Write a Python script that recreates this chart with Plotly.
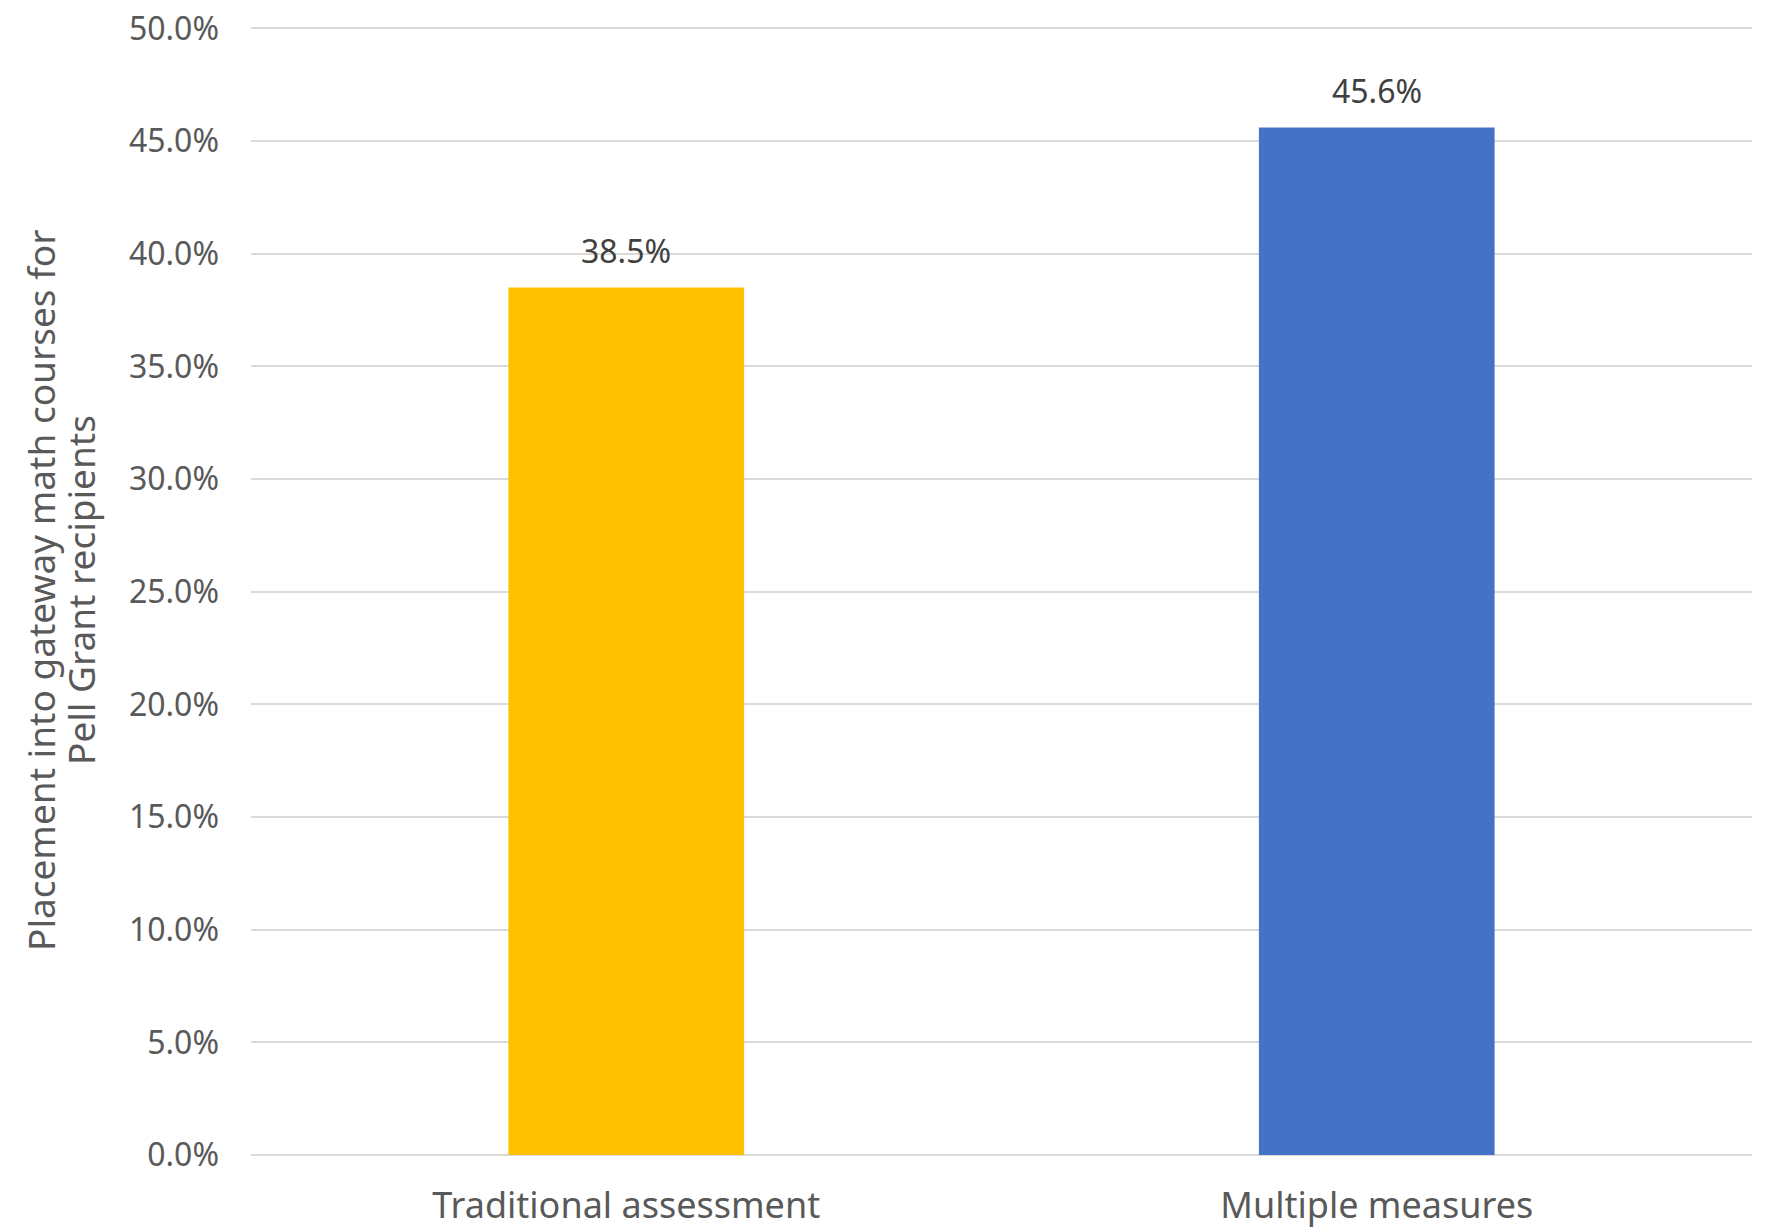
import plotly.graph_objects as go

categories = ["Traditional assessment", "Multiple measures"]
values = [38.5, 45.6]
bar_colors = ["#FFC000", "#4472C4"]
tick_vals = [0, 5, 10, 15, 20, 25, 30, 35, 40, 45, 50]
tick_text = [f"{v:.1f}%" for v in tick_vals]
data_labels = [f"{v:.1f}%" for v in values]
y_title_lines = ["Placement into gateway math courses for", "Pell Grant recipients"]

FONT = "Noto Sans"
W, H = 1773, 1231
ml, mr, mt, mb = 251, 21, 25, 76
pw = W - ml - mr

fig = go.Figure()
fig.add_trace(go.Bar(
    x=categories, y=values,
    marker=dict(color=bar_colors, line=dict(width=0)),
    width=0.314, hoverinfo="skip",
))

for c, v, t in zip(categories, values, data_labels):
    fig.add_annotation(x=c, y=v, text=t, showarrow=False, xref="x", yref="y",
                       yanchor="bottom", yshift=14,
                       font=dict(family=FONT, size=32, color="#404040"))

for px_x, line in zip([40, 80], y_title_lines):
    fig.add_annotation(x=(px_x - ml) / pw, y=0.5, xref="paper", yref="paper",
                       text=line, showarrow=False, textangle=-90,
                       xanchor="center", yanchor="middle",
                       font=dict(family=FONT, size=37, color="#595959"))

fig.update_layout(
    width=W, height=H,
    margin=dict(l=ml, r=mr, t=mt, b=mb, autoexpand=False),
    paper_bgcolor="white", plot_bgcolor="white",
    showlegend=False,
    font=dict(family=FONT, color="#595959"),
)
fig.update_xaxes(
    showgrid=False, zeroline=False, showline=False, ticks="",
    tickfont=dict(family=FONT, size=36, color="#595959"),
    ticklabelstandoff=26,
)
fig.update_yaxes(
    range=[0, 50.15], tickvals=tick_vals, ticktext=tick_text,
    showgrid=True, gridcolor="#D9D9D9", gridwidth=2,
    zeroline=True, zerolinecolor="#D9D9D9", zerolinewidth=2,
    showline=False, ticks="",
    tickfont=dict(family=FONT, size=32, color="#595959"),
    ticklabelstandoff=31,
)

fig.write_html("out.html")
